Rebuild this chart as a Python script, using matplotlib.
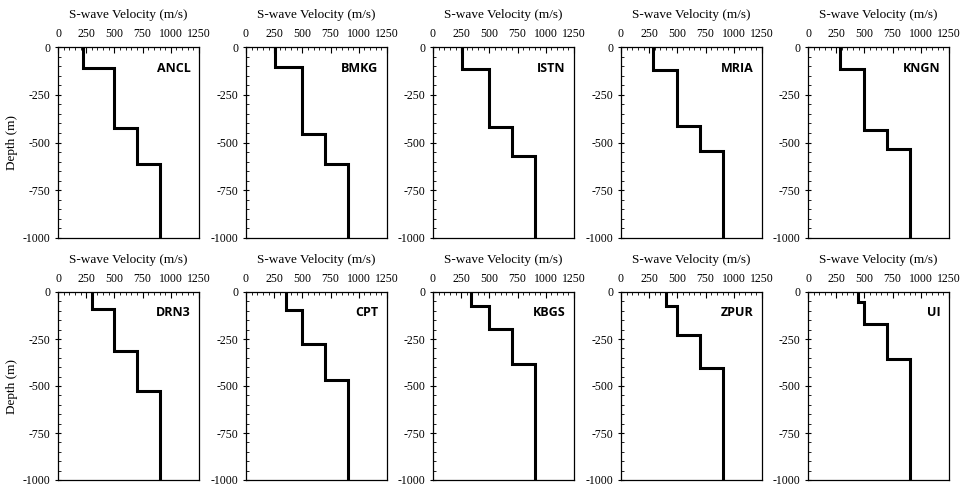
import numpy as np
import matplotlib
matplotlib.use("Agg")
import matplotlib.pyplot as plt
from matplotlib.ticker import MultipleLocator

# station names, in panel order (top row then bottom row)
stations = ["ANCL", "BMKG", "ISTN", "MRIA", "KNGN",
            "DRN3", "CPT", "KBGS", "ZPUR", "UI"]

# layer S-wave velocities (m/s), top to bottom
vs_ANCL = [220, 500, 700, 900]
vs_BMKG = [260, 500, 700, 900]
vs_ISTN = [260, 500, 700, 900]
vs_MRIA = [280, 500, 700, 900]
vs_KNGN = [280, 500, 700, 900]
vs_DRN3 = [300, 500, 700, 900]
vs_CPT = [355, 500, 700, 900]
vs_KBGS = [340, 500, 700, 900]
vs_ZPUR = [400, 500, 700, 900]
vs_UI = [445, 500, 700, 900]

# depth (m) of the layer boundaries, bottom of profile at 1000 m
bnd_ANCL = [112, 425, 610]
bnd_BMKG = [104, 458, 610]
bnd_ISTN = [117, 420, 572]
bnd_MRIA = [120, 414, 542]
bnd_KNGN = [115, 432, 535]
bnd_DRN3 = [93, 316, 525]
bnd_CPT = [97, 274, 466]
bnd_KBGS = [72, 197, 382]
bnd_ZPUR = [72, 229, 405]
bnd_UI = [54, 172, 358]

max_depth = 1000

velocities = [vs_ANCL, vs_BMKG, vs_ISTN, vs_MRIA, vs_KNGN,
              vs_DRN3, vs_CPT, vs_KBGS, vs_ZPUR, vs_UI]
boundaries = [bnd_ANCL, bnd_BMKG, bnd_ISTN, bnd_MRIA, bnd_KNGN,
              bnd_DRN3, bnd_CPT, bnd_KBGS, bnd_ZPUR, bnd_UI]

plt.rcParams['axes.unicode_minus'] = False
serif = 'Liberation Serif'

W, H = 960, 487
fig = plt.figure(figsize=(W / 100, H / 100), dpi=100)

lefts = [58, 246, 433, 621, 808]
tops = [47, 292]
heights = [191, 188]
ax_w = 141


def profile(vs, bnd):
    # staircase: each layer drawn as vertical segment, joined by horizontals
    depths = [0] + list(bnd) + [max_depth]
    x = np.repeat(vs, 2)
    y = np.array([(depths[i], depths[i + 1]) for i in range(len(vs))]).ravel()
    return x, -y


for i, name in enumerate(stations):
    row, col = divmod(i, 5)
    l = lefts[col]
    t = tops[row]
    ax_h = heights[row]
    ax = fig.add_axes([l / W, 1 - (t + ax_h) / H, ax_w / W, ax_h / H])

    x, y = profile(velocities[i], boundaries[i])
    ax.plot(x, y, color='black', lw=2.2, solid_joinstyle='miter')

    ax.set_xlim(0, 1250)
    ax.set_ylim(-1000, 0)
    ax.xaxis.set_major_locator(MultipleLocator(250))
    ax.xaxis.set_minor_locator(MultipleLocator(50))
    ax.yaxis.set_major_locator(MultipleLocator(250))
    ax.yaxis.set_minor_locator(MultipleLocator(50))

    ax.xaxis.tick_top()
    ax.xaxis.set_label_position('top')
    ax.tick_params(axis='x', which='major', direction='in', length=4, width=0.8,
                   labelsize=8.5, pad=5)
    ax.tick_params(axis='x', which='minor', direction='in', length=2, width=0.6)
    ax.tick_params(axis='y', which='major', direction='inout', length=5, width=0.8,
                   labelsize=8.5, pad=3)
    ax.tick_params(axis='y', which='minor', direction='in', length=2, width=0.6)
    for lab in ax.get_xticklabels() + ax.get_yticklabels():
        lab.set_family(serif)

    for s in ax.spines.values():
        s.set_linewidth(0.9)
        s.set_color('black')

    ax.set_xlabel('S-wave Velocity (m/s)', fontsize=9.5, family=serif, labelpad=7)
    if col == 0:
        ax.set_ylabel('Depth (m)', fontsize=9.5, family=serif, labelpad=3)

    ax.text(0.94, 0.89, name, transform=ax.transAxes, ha='right', va='center',
            fontsize=9, fontweight='bold', family='Open Sans')

fig.savefig('out.png', dpi=100)
